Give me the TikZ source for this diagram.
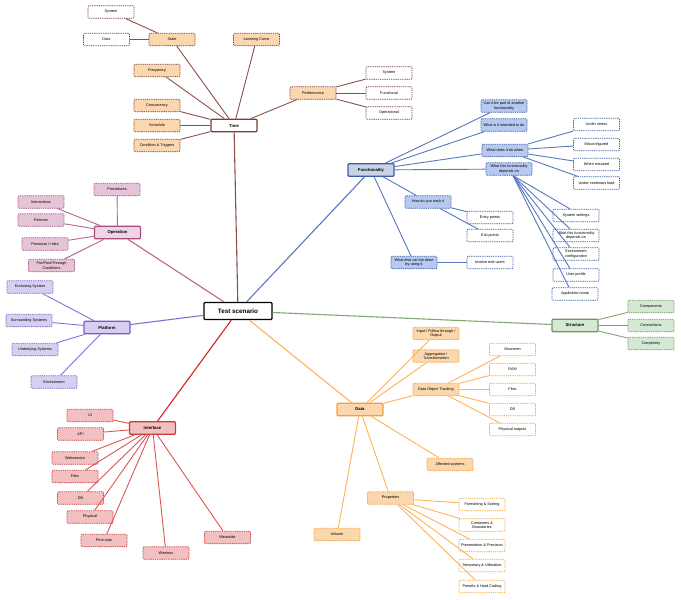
\documentclass[tikz,border=0pt]{standalone}
\usepackage{fontspec}
\setmainfont{Liberation Sans}
\definecolor{brB}{RGB}{125,60,55}
\definecolor{brL}{RGB}{140,80,72}
\definecolor{pch}{RGB}{250,215,175}
\definecolor{blB}{RGB}{60,95,165}
\definecolor{blL}{RGB}{85,120,190}
\definecolor{blM}{RGB}{200,211,232}
\definecolor{blF}{RGB}{183,201,240}
\definecolor{mvB}{RGB}{170,75,125}
\definecolor{mvL}{RGB}{185,100,145}
\definecolor{mvM}{RGB}{237,214,228}
\definecolor{mvF}{RGB}{230,196,216}
\definecolor{puB}{RGB}{120,90,200}
\definecolor{puL}{RGB}{135,110,215}
\definecolor{puF}{RGB}{216,207,240}
\definecolor{rdB}{RGB}{200,60,60}
\definecolor{rdL}{RGB}{222,85,85}
\definecolor{rdM}{RGB}{212,35,35}
\definecolor{rdF}{RGB}{242,192,192}
\definecolor{orB}{RGB}{245,160,60}
\definecolor{orL}{RGB}{255,178,85}
\definecolor{orF}{RGB}{250,215,172}
\definecolor{grB}{RGB}{115,150,95}
\definecolor{grL}{RGB}{130,168,112}
\definecolor{grF}{RGB}{213,232,212}
\begin{document}
\begin{tikzpicture}[x=1pt,y=-1pt,
  base/.style={rounded corners=1pt, minimum width=46pt, minimum height=12.5pt, inner sep=0.5pt, align=center, font=\fontsize{3.8}{4.3}\selectfont},
  dsh/.style={line width=0.7pt, dash pattern=on 1.3pt off 0.9pt},
  mainb/.style={base, line width=1.3pt, font=\bfseries\fontsize{4.2}{5}\selectfont},
  tmain/.style={mainb, draw=brB, fill=white},
  tsub/.style={base, dsh, draw=brB, fill=pch},
  tleaf/.style={base, dsh, draw=brB, fill=white},
  tln/.style={draw=brL, line width=0.9pt},
  fmain/.style={mainb, draw=blB, fill=blM},
  fsub/.style={base, dsh, draw=blB, fill=blF},
  fleaf/.style={base, dsh, draw=blB, fill=white},
  fln/.style={draw=blL, line width=0.9pt},
  omain/.style={mainb, draw=mvB, fill=mvM},
  osub/.style={base, dsh, draw=mvB, fill=mvF},
  oln/.style={draw=mvL, line width=0.9pt},
  pmain/.style={mainb, draw=puB, fill=puF},
  psub/.style={base, dsh, draw=puB, fill=puF},
  pln/.style={draw=puL, line width=0.9pt},
  imain/.style={mainb, draw=rdB, fill=rdF},
  isub/.style={base, dsh, draw=rdB, fill=rdF},
  iln/.style={draw=rdL, line width=0.9pt},
  dmain/.style={mainb, draw=orB, fill=orF},
  dsub/.style={base, dsh, draw=orB, fill=orF},
  dleaf/.style={base, dsh, draw=orB, fill=white},
  dln/.style={draw=orL, line width=0.9pt},
  smain/.style={mainb, draw=grB, fill=grF},
  ssub/.style={base, dsh, draw=grB, fill=grF},
  sln/.style={draw=grL, line width=0.9pt},
  rootbox/.style={draw=black, fill=white, line width=1.4pt, rounded corners=1pt, minimum width=68pt, minimum height=17pt, font=\bfseries\fontsize{6.3}{7}\selectfont}
]
\useasboundingbox (0,0) rectangle (681,600);

% ---------- root ----------
\node[rootbox] (ts) at (238,311) {Test scenario};

% ---------- Time ----------
\node[tmain] (time) at (234,125.5) {Time};
\node[tsub] (state) at (172,39.5) {State};
\node[tleaf] (tsys) at (111,12) {System};
\node[tleaf] (tdata) at (106.5,39.5) {Data};
\node[tsub] (learn) at (256.5,39.5) {Learning Curve};
\node[tsub] (freq) at (157,70.5) {Frequency};
\node[tsub] (conc) at (157,105.5) {Concurrency};
\node[tsub] (sched) at (157,125.5) {Schedule};
\node[tsub] (cond) at (157,145.5) {Condition \& Triggers};
\node[tsub] (perf) at (313,93) {Performance};
\node[tleaf] (psys) at (389,73) {System};
\node[tleaf] (pfun) at (389,93) {Functional};
\node[tleaf] (pop) at (389,113) {Operational};
\draw[tln] (state) -- (tsys);
\draw[tln] (state) -- (tdata);
\foreach \n in {state,learn,freq,conc,sched,cond,perf} \draw[tln] (time) -- (\n);
\foreach \n in {psys,pfun,pop} \draw[tln] (perf) -- (\n);
\draw[tln, line width=1.1pt] (ts) -- (time);

% ---------- Functionality ----------
\node[fmain] (func) at (371,170) {Functionality};
\node[fsub] (canpart) at (504,106) {Can it be part of another\\functionality};
\node[fsub] (intend) at (504,125) {What is it intended to do};
\node[fsub] (when) at (505,150.5) {What does it do when};
\node[fsub] (dep) at (509,169) {What this functionality\\depends on};
\node[fleaf] (stress) at (596.5,124.5) {Under stress};
\node[fleaf] (miscon) at (596.5,144.5) {Misconfigured};
\node[fleaf] (misuse) at (596.5,164.5) {When misused};
\node[fleaf] (load) at (596.5,183) {Under continues load};
\node[fsub] (track) at (428,202) {How do you track it};
\node[fleaf] (entry) at (490,217.5) {Entry points};
\node[fleaf] (exit) at (490,235.5) {Exit points};
\node[fsub] (else) at (414,262.5) {What else can be done\\by using it};
\node[fleaf] (users) at (490,262.5) {Involve end users};
\node[fleaf] (settings) at (576,215.5) {System settings};
\node[fleaf] (dep2) at (576,235.5) {What this functionality\\depends on};
\node[fleaf] (env) at (576,254) {Environment\\configuration};
\node[fleaf] (profile) at (576,275) {User profile};
\node[fleaf] (appstate) at (575,294) {Application state};
\foreach \n in {canpart,intend,when,dep,track,else} \draw[fln] (func) -- (\n);
\foreach \n in {stress,miscon,misuse,load} \draw[fln] (when) -- (\n);
\draw[fln] (track) -- (entry);
\draw[fln] (track) -- (exit);
\draw[fln] (else) -- (users);
\foreach \n in {settings,dep2,env,profile,appstate} \draw[fln] ([xshift=4pt]dep.south) -- ([xshift=-6pt]\n.north);
\draw[fln, line width=1.1pt] (ts) -- (func);

% ---------- Operation ----------
\node[omain] (oper) at (117.5,232.5) {Operation};
\node[osub] (proc) at (117,189.5) {Procedures};
\node[osub] (inter) at (41,202) {Interactions};
\node[osub] (patt) at (41,220) {Patterns};
\node[osub] (pers) at (45,244) {Personas / roles};
\node[osub] (prepost) at (51.5,265.5) {Pre/Post/Through\\Conditions};
\foreach \n in {proc,inter,patt,pers,prepost} \draw[oln] (oper) -- (\n);
\draw[oln, line width=1.1pt] (ts) -- (oper);

% ---------- Platform ----------
\node[pmain] (plat) at (107,327.5) {Platform};
\node[psub] (encl) at (30,287) {Enclosing System};
\node[psub] (surr) at (29,320.5) {Surrounding Systems};
\node[psub] (under) at (35,349.5) {Underlying Systems};
\node[psub] (envp) at (54,382) {Environment};
\foreach \n in {encl,surr,under,envp} \draw[pln] (plat) -- (\n);
\draw[pln, line width=1.1pt] (ts) -- (plat);

% ---------- Interface ----------
\node[imain] (iface) at (152.5,428) {Interface};
\node[isub] (ui) at (90,415.5) {UI};
\node[isub] (api) at (80.5,434) {API};
\node[isub] (webs) at (75,458) {Webservice};
\node[isub] (ifiles) at (75,476.5) {Files};
\node[isub] (idb) at (80.5,498) {DB};
\node[isub] (phys) at (90,517) {Physical};
\node[isub] (print) at (104,540.5) {Print-outs};
\node[isub] (wireless) at (166,553) {Wireless};
\node[isub] (wear) at (227.5,537.5) {Wearable};
\foreach \n in {ui,api,webs,ifiles,idb,phys,print,wireless,wear} \draw[iln] (iface) -- (\n);
\draw[draw=rdM, line width=1.1pt] (ts) -- (iface);

% ---------- Data ----------
\node[dmain] (data) at (360,409.5) {Data};
\node[dsub] (inp) at (436,333.5) {Input / Follow through /\\Output};
\node[dsub] (aggr) at (436,356) {Aggregation /\\Transformation};
\node[dsub] (dot) at (436,389.5) {Data Object Tracking};
\node[dleaf] (onscr) at (512.5,349.5) {Onscreen};
\node[dleaf] (ram) at (512.5,369.5) {RAM};
\node[dleaf] (dfiles) at (512.5,389.5) {Files};
\node[dleaf] (ddb) at (512.5,409.5) {DB};
\node[dleaf] (physout) at (512.5,429.5) {Physical outputs};
\node[dsub] (affect) at (450,464.5) {Affected systems};
\node[dsub] (props) at (390.5,498) {Properties};
\node[dsub] (volume) at (337,534.5) {Volume};
\node[dleaf] (fmt) at (482,504.5) {Formatting \& Sorting};
\node[dleaf] (cont) at (482,525) {Containers \&\\Boundaries};
\node[dleaf] (pres) at (482,545.5) {Presentation \& Precision};
\node[dleaf] (temp) at (482,565.5) {Temporary \& Utilisation};
\node[dleaf] (preset) at (482,586.5) {Presets \& Hard Coding};
\foreach \n in {inp,aggr,dot,affect,props,volume} \draw[dln] (data) -- (\n);
\foreach \n in {onscr,ram,dfiles,ddb,physout} \draw[dln] (dot) -- (\n);
\foreach \n in {fmt,cont,pres,temp,preset} \draw[dln] (props) -- (\n);
\draw[dln, line width=1.1pt] (ts) -- (data);

% ---------- Structure ----------
\node[smain] (struct) at (575,325.5) {Structure};
\node[ssub] (comp) at (651,306.5) {Components};
\node[ssub] (conn) at (651,325.5) {Connections};
\node[ssub] (compl) at (651,343.5) {Complexity};
\foreach \n in {comp,conn,compl} \draw[sln] (struct) -- (\n);
\draw[sln, line width=1.1pt] (ts) -- (struct);
\end{tikzpicture}
\end{document}
